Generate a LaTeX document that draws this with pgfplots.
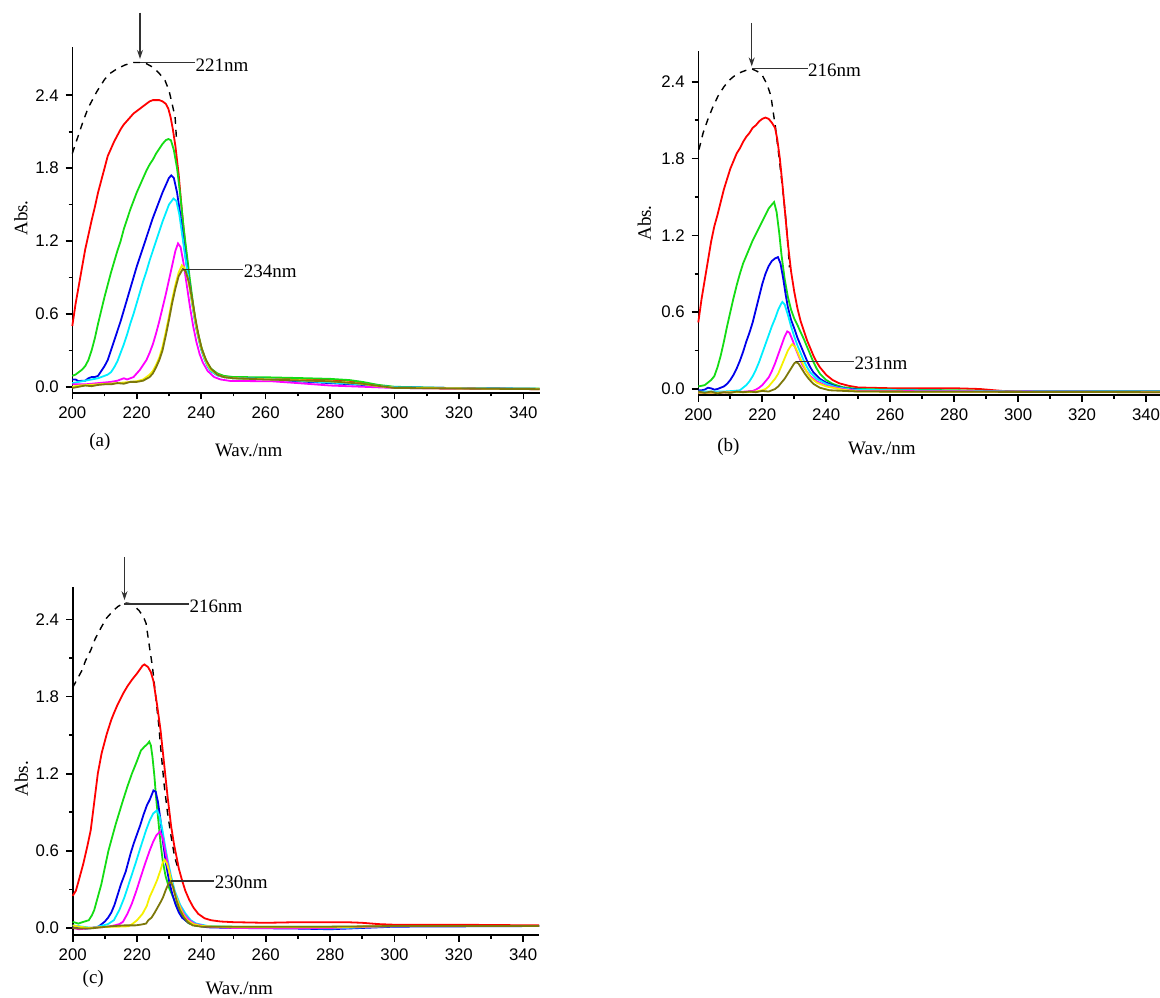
\documentclass[border=0pt]{standalone}
\usepackage{fontspec}
\setmainfont{Liberation Serif}
\newfontfamily\ticksans{Liberation Sans}
\usepackage{pgfplots}
\pgfplotsset{compat=1.18}
\usetikzlibrary{arrows.meta}

\definecolor{cred}{RGB}{255,0,0}
\definecolor{cgreen}{RGB}{20,220,20}
\definecolor{cblue}{RGB}{0,0,235}
\definecolor{ccyan}{RGB}{0,238,255}
\definecolor{cmag}{RGB}{255,0,255}
\definecolor{cyel}{RGB}{245,240,0}
\definecolor{colive}{RGB}{125,120,10}
\definecolor{annot}{RGB}{50,50,50}

\newcommand\lblfont{\fontsize{9.5}{11}\selectfont}
\newcommand\tickfont{\ticksans\fontsize{8.4}{10}\selectfont}

\tikzset{
  peakline/.style={annot,line width=0.55pt},
  peaktext/.style={anchor=west,inner sep=0pt,text=black,font=\lblfont},
  peakarrow/.style={annot,line width=0.6pt,-{Stealth[length=4.5pt,width=3pt]}},
  envelope/.style={black,line width=0.7pt,dash pattern=on 3.4pt off 3pt},
}
\pgfplotsset{
  uvpanel/.style={
    scale only axis,
    xmin=200, xmax=345,
    axis lines=left,
    axis line style={line width=0.8pt,-},
    tick align=outside,
    xtick={200,220,...,340},
    minor x tick num=1,
    ytick={0,0.6,1.2,1.8,2.4},
    minor y tick num=1,
    major tick length=3.3pt,
    minor tick length=1.8pt,
    every tick/.style={black,line width=0.8pt},
    tick label style={font=\tickfont},
    /pgf/number format/assume math mode=true,
    yticklabel style={/pgf/number format/fixed,/pgf/number format/fixed zerofill,/pgf/number format/precision=1},
    xlabel={Wav./nm}, ylabel={Abs.},
    label style={font=\lblfont},
    clip=false,
    every axis plot/.append style={line width=0.9pt},
  },
}

\begin{document}
\begin{tikzpicture}
\path[use as bounding box] (0,0) rectangle (580pt,-498.5pt);

% ---------------- (a)
\begin{axis}[uvpanel,
  at={(36.15pt,-23.35pt)}, anchor=north west,
  width=233.65pt, height=173pt,
  ymin=-0.049, ymax=2.8,
  xlabel style={at={(axis description cs:0.3775,-0.166)},anchor=center},
  ylabel style={at={(axis description cs:-0.11,0.505)},anchor=center},
]
\addplot[envelope] coordinates {(200,1.92) (201,2.0) (203.4,2.19) (205,2.3) (207.6,2.43) (210,2.53) (211.7,2.58) (214,2.62) (216.4,2.65) (219,2.67) (221,2.67) (223,2.66) (225.1,2.63) (227,2.58) (228.8,2.52) (230,2.44) (230.8,2.35) (231.9,2.22) (232.3,2.05)};
\addplot[cred] coordinates {(200,0.50) (201,0.68) (202,0.83) (203,0.98) (204,1.13) (205,1.25) (206,1.37) (207,1.48) (208,1.6) (209,1.7) (210,1.8) (211,1.9) (212,1.96) (213,2.02) (214,2.07) (215,2.12) (216,2.16) (217,2.19) (218,2.22) (219,2.25) (220,2.27) (221,2.29) (222,2.31) (223,2.33) (224,2.35) (225,2.36) (226,2.36) (227,2.36) (228,2.35) (229,2.33) (229.8,2.29) (230.5,2.22) (231.2,2.12) (232,1.98) (233,1.75) (234,1.45) (235,1.18) (236,0.95) (237,0.75) (238,0.57) (239,0.43) (240,0.32) (241,0.24) (242,0.18) (243,0.14) (245,0.1) (247,0.085) (250,0.075) (255,0.072) (260,0.072) (265,0.07) (270,0.066) (275,0.062) (280,0.058) (285,0.052) (290,0.035) (295,0.01) (300,-0.005) (310,-0.012) (320,-0.015) (345,-0.018)};
\addplot[cgreen] coordinates {(200,0.09) (201,0.1) (202,0.12) (203,0.14) (204,0.17) (205,0.22) (206,0.3) (207,0.4) (208,0.52) (209,0.63) (210,0.74) (211,0.84) (212,0.94) (213,1.03) (214,1.12) (215,1.2) (216,1.3) (217,1.38) (218,1.46) (219,1.53) (220,1.6) (221,1.66) (222,1.72) (223,1.78) (224,1.83) (225,1.87) (226,1.92) (227,1.96) (228,2.0) (229,2.03) (229.8,2.04) (230.6,2.03) (231.5,1.95) (232.5,1.8) (233.5,1.58) (234.5,1.32) (235.5,1.1) (236.5,0.88) (237.5,0.68) (238.5,0.5) (240,0.33) (241,0.25) (242,0.19) (243,0.15) (245,0.11) (247,0.09) (250,0.08) (260,0.078) (270,0.072) (280,0.065) (286,0.055) (290,0.04) (295,0.015) (300,0.0) (320,-0.012) (345,-0.015)};
\addplot[cblue] coordinates {(200,0.06) (201,0.06) (202,0.045) (203,0.05) (204,0.05) (205,0.07) (206,0.08) (207,0.08) (208,0.09) (209,0.13) (210,0.17) (211,0.22) (212,0.3) (213,0.38) (214,0.46) (215,0.54) (216,0.63) (217,0.72) (218,0.81) (219,0.9) (220,0.99) (221,1.07) (222,1.15) (223,1.23) (224,1.31) (225,1.39) (226,1.46) (227,1.53) (228,1.6) (229,1.66) (230,1.72) (230.7,1.74) (231.5,1.72) (232.5,1.6) (233.5,1.42) (234.5,1.2) (235.5,1.0) (236.5,0.82) (237.5,0.64) (238.5,0.48) (240,0.31) (241,0.23) (242,0.17) (243,0.13) (245,0.095) (247,0.08) (250,0.07) (260,0.065) (270,0.045) (280,0.03) (290,0.015) (300,-0.005) (345,-0.018)};
\addplot[ccyan] coordinates {(200,0.03) (202,0.04) (204,0.05) (206,0.06) (208,0.07) (210,0.09) (211,0.1) (212,0.12) (213,0.16) (214,0.21) (215,0.28) (216,0.35) (217,0.43) (218,0.52) (219,0.6) (220,0.69) (221,0.78) (222,0.87) (223,0.95) (224,1.04) (225,1.12) (226,1.2) (227,1.28) (228,1.36) (229,1.43) (230,1.5) (231.4,1.55) (232.3,1.53) (233.2,1.42) (234,1.27) (235,1.08) (236,0.9) (237,0.72) (238,0.55) (239,0.42) (240,0.31) (241,0.23) (242,0.17) (243,0.13) (245,0.095) (247,0.08) (250,0.07) (260,0.065) (270,0.05) (280,0.035) (290,0.02) (300,-0.005) (345,-0.018)};
\addplot[cmag] coordinates {(200,0.02) (204,0.02) (208,0.03) (212,0.04) (214,0.05) (216,0.07) (217,0.06) (218,0.07) (219,0.08) (220,0.11) (221,0.14) (222,0.18) (223,0.22) (224,0.28) (225,0.35) (226,0.44) (227,0.54) (228,0.65) (229,0.76) (230,0.88) (231,1.0) (232,1.12) (232.8,1.18) (233.6,1.15) (234.5,1.02) (235.5,0.84) (236.5,0.66) (237.5,0.5) (238.5,0.37) (239.5,0.27) (240.5,0.2) (242,0.13) (244,0.08) (246,0.06) (249,0.048) (262,0.045) (270,0.03) (280,0.01) (290,0.0) (300,-0.01) (345,-0.02)};
\addplot[cyel] coordinates {(200,0.0) (202,0.01) (205,0.015) (208,0.02) (211,0.025) (214,0.03) (216,0.035) (218,0.04) (220,0.045) (222,0.06) (224,0.1) (225,0.13) (226,0.18) (227,0.24) (228,0.33) (229,0.45) (230,0.58) (231,0.72) (232,0.84) (233,0.94) (234,1.0) (234.8,0.98) (235.8,0.9) (236.8,0.76) (237.8,0.6) (238.8,0.45) (240,0.32) (241,0.24) (242,0.18) (243,0.14) (245,0.1) (247,0.08) (250,0.07) (260,0.062) (270,0.055) (280,0.045) (288,0.03) (295,0.005) (300,-0.008) (345,-0.02)};
\addplot[colive] coordinates {(200,-0.01) (202,0.0) (204,0.01) (206,0.005) (208,0.015) (210,0.02) (212,0.02) (214,0.03) (216,0.025) (218,0.04) (220,0.04) (222,0.05) (224,0.08) (225,0.11) (226,0.16) (227,0.22) (228,0.3) (229,0.42) (230,0.55) (231,0.69) (232,0.81) (233,0.91) (234.3,0.97) (235.2,0.95) (236.2,0.86) (237.2,0.72) (238.2,0.56) (239.2,0.42) (240.2,0.31) (241.5,0.22) (243,0.15) (245,0.1) (247,0.08) (250,0.07) (260,0.06) (280,0.045) (290,0.025) (300,-0.01) (345,-0.02)};
\draw[peakarrow] (axis cs:221,3.08) -- (axis cs:221,2.70);
\draw[peakline] (axis cs:221,2.667) -- (axis cs:238.1,2.667)
  node[peaktext,yshift=-1pt] {221nm};
\draw[peakline] (axis cs:234.3,0.967) -- (axis cs:253.1,0.967)
  node[peaktext,yshift=-1pt] {234nm};
\node[font=\lblfont] at (axis description cs:0.059,-0.142) {(a)};
\end{axis}

% ---------------- (b)
\begin{axis}[uvpanel,
  at={(349.15pt,-25.5pt)}, anchor=north west,
  width=231.85pt, height=172pt,
  ymin=-0.047, ymax=2.64,
  xlabel style={at={(axis description cs:0.396,-0.155)},anchor=center},
  ylabel style={at={(axis description cs:-0.116,0.5)},anchor=center},
]
\addplot[envelope] coordinates {(200.2,1.87) (201.5,2.0) (202.9,2.10) (204.5,2.2) (206.2,2.29) (208,2.36) (209.6,2.41) (211,2.44) (212.9,2.47) (215,2.49) (216.8,2.5) (218.5,2.48) (220,2.45) (221.5,2.38) (222.7,2.29) (223.5,2.15) (224.1,2.05) (225.2,1.82) (226.3,1.58) (227.2,1.37) (228,1.14) (228.5,0.95)};
\addplot[cred] coordinates {(200,0.52) (201,0.7) (202,0.85) (203,1.0) (204,1.15) (205,1.27) (206,1.36) (207,1.46) (208,1.56) (209,1.64) (210,1.72) (211,1.78) (212,1.84) (213,1.88) (214,1.93) (215,1.97) (216,2.0) (217,2.04) (218,2.06) (219,2.09) (220,2.11) (221,2.12) (222,2.11) (223,2.08) (224,2.04) (224.7,1.95) (225.5,1.8) (226.3,1.6) (227.2,1.36) (228,1.14) (229,0.92) (230,0.76) (231,0.63) (232,0.53) (233.2,0.44) (234,0.38) (235,0.32) (236,0.26) (237,0.21) (238,0.17) (240,0.11) (242,0.07) (244,0.045) (247,0.025) (250,0.012) (260,0.006) (280,0.006) (288,0.0) (295,-0.015) (300,-0.02) (345,-0.02)};
\addplot[cgreen] coordinates {(200,0.02) (201,0.025) (202,0.03) (203,0.05) (204,0.07) (205,0.1) (206,0.17) (207,0.26) (208,0.37) (209,0.49) (210,0.6) (211,0.71) (212,0.81) (213,0.9) (214,0.98) (215,1.04) (216,1.1) (217,1.16) (218,1.21) (219,1.26) (220,1.31) (221,1.36) (222,1.41) (223,1.44) (223.7,1.46) (224.5,1.38) (225.3,1.22) (226,1.05) (227,0.86) (228,0.72) (229,0.62) (230,0.55) (231,0.5) (231.7,0.46) (233,0.39) (234,0.33) (235,0.27) (236,0.21) (237,0.16) (238,0.12) (240,0.07) (242,0.04) (245,0.015) (250,0.0) (260,-0.005) (280,-0.01) (300,-0.02) (345,-0.02)};
\addplot[cblue] coordinates {(200,-0.01) (201,-0.01) (202,-0.005) (203,0.01) (204,0.005) (205,-0.005) (206,0.0) (207,0.01) (208,0.02) (209,0.04) (210,0.07) (211,0.11) (212,0.16) (213,0.22) (214,0.29) (215,0.37) (216,0.44) (217,0.52) (218,0.62) (219,0.72) (220,0.82) (221,0.9) (222,0.96) (223,1.0) (224,1.02) (224.9,1.03) (225.7,0.98) (226.5,0.87) (227.3,0.74) (228,0.64) (229,0.54) (230.2,0.46) (231,0.4) (232,0.34) (233,0.28) (234,0.22) (235,0.17) (236,0.13) (238,0.08) (240,0.05) (243,0.02) (247,0.0) (255,-0.01) (300,-0.02) (345,-0.02)};
\addplot[ccyan] coordinates {(200,-0.02) (204,-0.02) (208,-0.02) (211,-0.015) (213,-0.01) (214,0.01) (215,0.03) (216,0.06) (217,0.1) (218,0.15) (219,0.21) (220,0.28) (221,0.35) (222,0.42) (223,0.49) (224,0.55) (225,0.62) (226,0.67) (226.3,0.68) (227,0.66) (228,0.58) (229,0.49) (230,0.41) (231,0.34) (232,0.28) (233,0.22) (234,0.17) (235,0.13) (237,0.08) (240,0.04) (243,0.015) (248,-0.005) (300,-0.02) (345,-0.02)};
\addplot[cmag] coordinates {(200,-0.03) (205,-0.03) (210,-0.025) (215,-0.02) (217,-0.015) (218,-0.005) (219,0.01) (220,0.03) (221,0.06) (222,0.09) (223,0.14) (224,0.2) (225,0.27) (226,0.34) (227,0.41) (227.8,0.45) (228.5,0.44) (229.5,0.38) (230.5,0.31) (231.5,0.25) (232.5,0.19) (233.5,0.15) (235,0.1) (237,0.06) (240,0.025) (245,0.0) (250,-0.015) (345,-0.025)};
\addplot[cyel] coordinates {(200,-0.03) (205,-0.03) (210,-0.025) (215,-0.025) (218,-0.02) (220,-0.01) (221,0.0) (222,0.02) (223,0.05) (224,0.08) (225,0.12) (226,0.18) (227,0.24) (228,0.3) (229,0.34) (229.4,0.35) (230.2,0.33) (231,0.29) (232,0.23) (233,0.18) (234,0.13) (235,0.09) (237,0.05) (240,0.02) (245,-0.005) (250,-0.02) (345,-0.025)};
\addplot[colive] coordinates {(200,-0.02) (202,-0.03) (204,-0.02) (206,-0.035) (208,-0.025) (210,-0.03) (212,-0.02) (214,-0.025) (216,-0.02) (218,-0.025) (220,-0.015) (222,-0.02) (223,-0.01) (224,0.0) (225,0.02) (226,0.05) (227,0.08) (228,0.12) (229,0.16) (230,0.2) (230.5,0.21) (231.3,0.2) (232.3,0.16) (233.3,0.12) (234.5,0.08) (236,0.04) (238,0.01) (241,-0.01) (250,-0.02) (345,-0.025)};
\draw[peakarrow] (axis cs:216.7,2.86) -- (axis cs:216.7,2.52);
\draw[peakline] (axis cs:216.8,2.5) -- (axis cs:234.2,2.5)
  node[peaktext,yshift=-0.5pt] {216nm};
\draw[peakline] (axis cs:230.5,0.213) -- (axis cs:248.7,0.213)
  node[peaktext,yshift=-1pt] {231nm};
\node[font=\lblfont] at (axis description cs:0.065,-0.152) {(b)};
\end{axis}

% ---------------- (c)
\begin{axis}[uvpanel,
  at={(36.35pt,-293.65pt)}, anchor=north west,
  width=233.25pt, height=173.85pt,
  ymin=-0.055, ymax=2.65,
  xlabel style={at={(axis description cs:0.357,-0.153)},anchor=center},
  ylabel style={at={(axis description cs:-0.11,0.45)},anchor=center},
]
\addplot[envelope] coordinates {(200,1.87) (201.5,1.94) (202.8,2.0) (204,2.08) (205.6,2.16) (207,2.25) (208.9,2.34) (210.5,2.41) (212.3,2.46) (214,2.5) (216.1,2.53) (218.5,2.52) (220.6,2.47) (222,2.42) (222.8,2.37) (223.9,2.18) (224.8,2.03) (225.8,1.80) (226.7,1.59) (227.5,1.36) (228.4,1.12) (229.5,0.89) (230.6,0.71) (231.7,0.55) (232.9,0.45)};
\addplot[cred] coordinates {(200,0.25) (201,0.29) (202,0.38) (203.3,0.50) (204.5,0.63) (205.6,0.76) (206.7,0.98) (207.8,1.2) (209,1.36) (210.6,1.51) (212,1.62) (212.8,1.67) (214,1.74) (215.6,1.82) (217,1.88) (218.4,1.93) (220,1.98) (221.7,2.04) (222.3,2.05) (223.4,2.03) (224.3,1.99) (225.1,1.92) (226.2,1.74) (227.3,1.54) (228.4,1.28) (229.5,1.02) (230.6,0.79) (231.5,0.65) (232.3,0.55) (233,0.46) (234,0.37) (235,0.29) (236.2,0.22) (237.5,0.16) (239,0.11) (241,0.075) (243,0.06) (246,0.05) (250,0.045) (260,0.04) (270,0.045) (285,0.045) (290,0.04) (295,0.03) (300,0.025) (320,0.025) (345,0.02)};
\addplot[cgreen] coordinates {(200,0.047) (201,0.04) (201.7,0.034) (203.3,0.047) (205,0.06) (206,0.1) (206.7,0.14) (207.8,0.24) (208.9,0.34) (210,0.47) (211.1,0.6) (212.3,0.71) (213.4,0.81) (214.5,0.9) (215.6,0.99) (217,1.1) (218.4,1.2) (220,1.3) (221.2,1.38) (222.3,1.41) (223.2,1.43) (223.8,1.45) (224.3,1.42) (224.8,1.33) (225.4,1.18) (225.9,1.02) (226.6,0.84) (227.3,0.66) (228,0.52) (228.9,0.40) (230,0.31) (231.2,0.24) (232.3,0.17) (233.4,0.11) (234.8,0.065) (236.2,0.034) (238,0.02) (240,0.013) (250,0.01) (270,0.01) (290,0.01) (300,0.015) (345,0.015)};
\addplot[cblue] coordinates {(200,0.0) (202,0.01) (204,-0.005) (206,0.0) (208,0.01) (209,0.03) (210,0.05) (211,0.08) (212,0.12) (213,0.18) (214,0.26) (215,0.34) (216.5,0.44) (218,0.58) (219,0.66) (220,0.73) (221,0.8) (222,0.88) (223,0.95) (224,1.0) (225.1,1.07) (225.8,1.06) (226.5,0.98) (227.3,0.84) (228,0.68) (229,0.5) (230,0.36) (231,0.26) (232,0.18) (233,0.12) (234,0.08) (236,0.04) (238,0.02) (242,0.005) (250,0.0) (270,-0.005) (280,-0.01) (290,0.0) (300,0.01) (345,0.015)};
\addplot[ccyan] coordinates {(200,0.02) (203,0.01) (206,0.0) (209.5,0.02) (211,0.03) (212.8,0.06) (214.5,0.14) (216.1,0.24) (217.8,0.37) (219.5,0.5) (221,0.62) (222.8,0.76) (224,0.84) (225,0.89) (226.2,0.915) (227,0.87) (227.9,0.76) (228.7,0.64) (229.5,0.53) (230.6,0.4) (231.7,0.29) (233.4,0.18) (235.1,0.11) (236.7,0.06) (238.4,0.034) (242,0.015) (250,0.005) (270,0.0) (280,-0.005) (300,0.015) (345,0.015)};
\addplot[cmag] coordinates {(200,0.0) (202,-0.01) (203.9,-0.005) (205,0.0) (208,0.005) (210.6,0.008) (212,0.015) (213,0.02) (214.5,0.03) (215.6,0.047) (217,0.11) (218.4,0.19) (219.8,0.29) (221.2,0.4) (222.5,0.5) (223.9,0.6) (225,0.67) (226,0.72) (227.1,0.75) (228,0.7) (228.9,0.58) (229.7,0.48) (230.6,0.37) (231.7,0.27) (232.9,0.19) (234.5,0.11) (236.2,0.06) (238,0.03) (242,0.01) (250,0.0) (280,0.0) (300,0.015) (345,0.015)};
\addplot[cyel] coordinates {(200,0.02) (202,0.01) (205,0.0) (210,0.008) (214,0.01) (217.3,0.013) (218.5,0.03) (220,0.06) (221.7,0.11) (223,0.17) (223.9,0.24) (225,0.3) (226.2,0.37) (227.3,0.45) (228,0.51) (228.6,0.53) (229.3,0.5) (230,0.44) (230.6,0.37) (231.7,0.27) (232.9,0.19) (234.2,0.11) (235.6,0.06) (237.5,0.03) (240,0.015) (250,0.005) (280,0.005) (300,0.015) (345,0.015)};
\addplot[colive] coordinates {(200,0.0) (202,-0.005) (205,-0.005) (207,0.0) (210.6,0.01) (213,0.015) (216,0.02) (219.5,0.02) (221,0.025) (222.8,0.034) (223.5,0.06) (224.5,0.08) (225.5,0.12) (226.4,0.16) (227.3,0.2) (228.1,0.24) (229,0.3) (229.7,0.34) (230.4,0.36) (231.2,0.32) (232.3,0.21) (233.3,0.14) (234.5,0.085) (235.8,0.045) (237.3,0.02) (240,0.01) (260,0.01) (280,0.01) (300,0.015) (345,0.015)};
\draw[peakarrow] (axis cs:216.1,2.885) -- (axis cs:216.1,2.55);
\draw[peakline] (axis cs:216.1,2.52) -- (axis cs:236.2,2.52)
  node[peaktext,yshift=-1pt] {216nm};
\draw[peakline] (axis cs:230.4,0.365) -- (axis cs:244,0.365)
  node[peaktext,yshift=-0.5pt] {230nm};
\node[font=\lblfont] at (axis description cs:0.044,-0.127) {(c)};
\end{axis}
\end{tikzpicture}
\end{document}
